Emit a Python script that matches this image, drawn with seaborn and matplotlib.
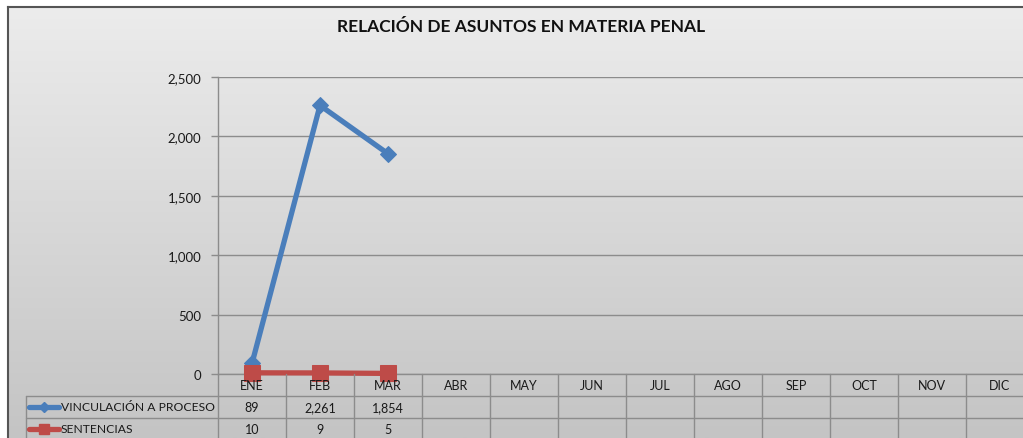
import numpy as np
import pandas as pd
import matplotlib
matplotlib.use('Agg')
import matplotlib.pyplot as plt
import seaborn as sns
from matplotlib import transforms
from matplotlib.lines import Line2D
from matplotlib.colors import LinearSegmentedColormap

# ---------------- data ----------------
months = ['ENE', 'FEB', 'MAR', 'ABR', 'MAY', 'JUN', 'JUL', 'AGO', 'SEP', 'OCT', 'NOV', 'DIC']
vinculacion = [89, 2261, 1854]
sentencias = [10, 9, 5]
series_names = ['VINCULACIÓN A PROCESO', 'SENTENCIAS']
title = 'RELACIÓN DE ASUNTOS EN MATERIA PENAL'
yticks = [0, 500, 1000, 1500, 2000, 2500]

# ---------------- styles ----------------
BLUE = '#4a7ebb'
RED = '#be4b48'
GRID = '#8c8c8c'
W, H = 1023, 439

sns.set_theme(style='white')
plt.rcParams['font.family'] = ['Lato', 'DejaVu Sans']

fig = plt.figure(figsize=(W / 100, H / 100), dpi=100)
fig.patch.set_facecolor('white')


def fx(px):
    return px / W


def fy(py):
    return 1 - py / H


# background gradient panel
bg = fig.add_axes([fx(8), 0, 1 - fx(8), fy(8)])
grad = np.linspace(0, 1, 256).reshape(-1, 1)
cmap = LinearSegmentedColormap.from_list('g', ['#ececec', '#c4c4c4'])
bg.imshow(grad, aspect='auto', cmap=cmap, extent=[0, 1, 0, 1], origin='upper')
bg.set_xticks([]); bg.set_yticks([])
for s in ['right', 'bottom']:
    bg.spines[s].set_visible(False)
for s in ['left', 'top']:
    bg.spines[s].set_visible(True)
    bg.spines[s].set_color('#555555')
    bg.spines[s].set_linewidth(1.5)
bg.set_zorder(0)

# main axes
ax = fig.add_axes([fx(218), fy(375), (1034 - 218) / W, (375 - 78) / H])
ax.set_facecolor('none')
ax.set_zorder(2)

df1 = pd.DataFrame({'mes': months[:len(vinculacion)], 'valor': vinculacion})
df2 = pd.DataFrame({'mes': months[:len(sentencias)], 'valor': sentencias})
sns.lineplot(data=df1, x='mes', y='valor', ax=ax, color=BLUE, lw=3.8,
             marker='D', markersize=8, markeredgecolor=BLUE, zorder=3,
             clip_on=False)
sns.lineplot(data=df2, x='mes', y='valor', ax=ax, color=RED, lw=3.8,
             marker='s', markersize=11.5, markeredgecolor=RED, zorder=4,
             clip_on=False)

ax.set_xlim(-0.5, len(months) - 0.5)
ax.set_ylim(0, 2500)
ax.set_yticks(yticks)
ax.set_yticklabels([f'{v:,}' for v in yticks], fontsize=9.5, color='#1a1a1a')
ax.set_xticks([])
ax.set_xlabel(''); ax.set_ylabel('')
ax.yaxis.grid(True, color=GRID, lw=1)
ax.xaxis.grid(False)
ax.tick_params(axis='y', length=5, width=1, color=GRID, pad=7, left=True)
for s in ['top', 'right']:
    ax.spines[s].set_visible(False)
for s in ['left', 'bottom']:
    ax.spines[s].set_visible(True)
    ax.spines[s].set_color(GRID)
    ax.spines[s].set_linewidth(1)

# title
fig.text(fx(521), fy(27), title, ha='center', va='center',
         fontsize=12.5, fontweight='bold', color='#111111')

# ---------------- data table ----------------
tblend = transforms.blended_transform_factory(ax.transData, fig.transFigure)
LC = '#8c8c8c'
# horizontal lines
for py in [397, 419, 441]:
    fig.add_artist(Line2D([fx(26), 1.02], [fy(py), fy(py)], color=LC, lw=1,
                          transform=fig.transFigure, zorder=5))
# vertical column boundaries
for k in range(len(months) + 1):
    fig.add_artist(Line2D([k - 0.5, k - 0.5], [fy(375), fy(445)], color=LC, lw=1,
                          transform=tblend, zorder=5))
fig.add_artist(Line2D([fx(26), fx(26)], [fy(397), fy(445)], color=LC, lw=1,
                      transform=fig.transFigure, zorder=5))

# header month labels
for k, m in enumerate(months):
    fig.text(k, fy(386), m, transform=tblend, ha='center', va='center',
             fontsize=9, color='#1a1a1a', zorder=6)

rows = [vinculacion, sentencias]
row_y = [408, 430]
colors = [BLUE, RED]
mk = ['D', 's']
mks = [6.5, 9]
for r, (vals, py) in enumerate(zip(rows, row_y)):
    for k, v in enumerate(vals):
        fig.text(k, fy(py), f'{v:,}', transform=tblend, ha='center', va='center',
                 fontsize=9, color='#1a1a1a', zorder=6)
    # legend key
    fig.add_artist(Line2D([fx(29), fx(59)], [fy(py), fy(py)], color=colors[r], lw=3.8,
                          transform=fig.transFigure, zorder=6))
    fig.add_artist(Line2D([fx(44)], [fy(py)], color=colors[r], marker=mk[r],
                          markersize=mks[r] * 0.8, markeredgecolor=colors[r],
                          transform=fig.transFigure, zorder=7))
    fig.text(fx(61), fy(py), series_names[r], ha='left', va='center',
             fontsize=8.7, color='#1a1a1a', zorder=6)

fig.savefig('out.png', dpi=100)
